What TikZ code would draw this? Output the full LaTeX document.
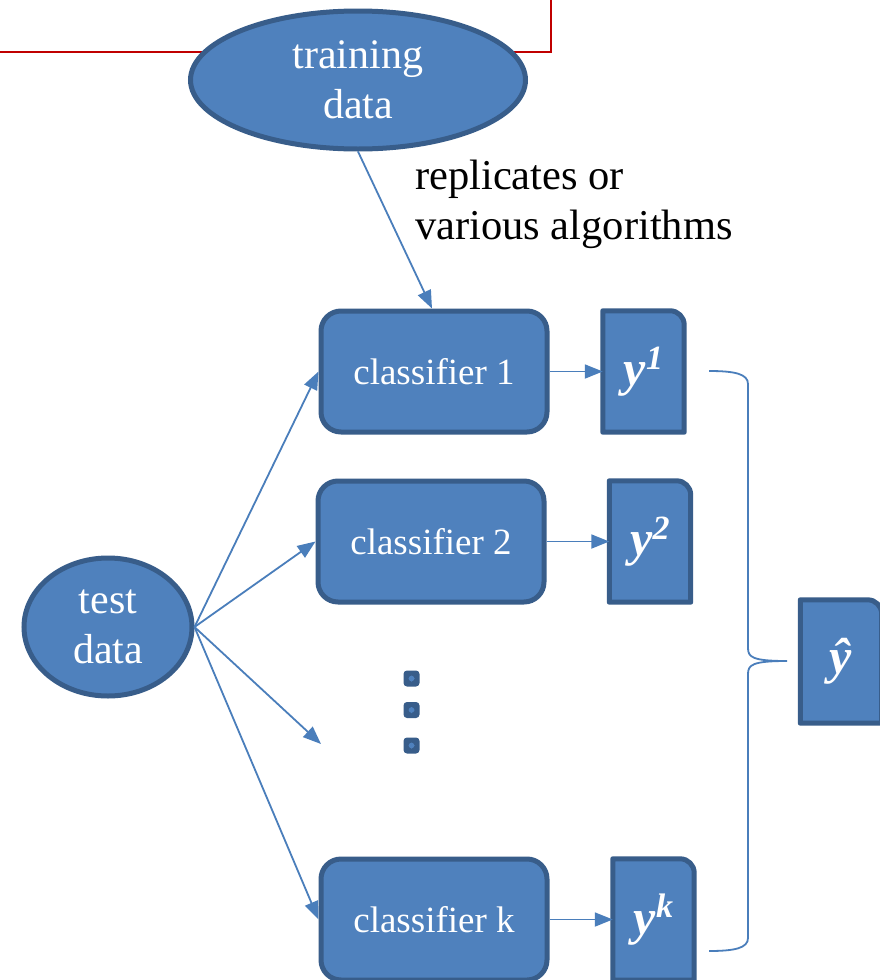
\documentclass[tikz,border=0pt]{standalone}
\usepackage{fontspec}
\setmainfont{Liberation Serif}
\usetikzlibrary{arrows.meta,calc,shapes.geometric}
\pgfdeclarelayer{background}
\pgfsetlayers{background,main}
\definecolor{boxfill}{HTML}{4F81BD}
\definecolor{boxline}{HTML}{385D8A}
\definecolor{linkblue}{HTML}{4A7EBB}
\definecolor{framered}{HTML}{C00000}
\newcommand{\supmark}[1]{\raisebox{0.33em}{\fontsize{34}{34}\selectfont #1}}
\tikzset{
  databox/.style={ellipse, draw=boxline, fill=boxfill, line width=5pt, inner sep=0pt,
    text=white, align=center, font=\fontsize{42}{50}\selectfont},
  clsbox/.style={rectangle, rounded corners=20pt, draw=boxline, fill=boxfill, line width=5pt,
    minimum width=226pt, minimum height=121pt, inner sep=0pt, text=white,
    font=\fontsize{37}{42}\selectfont},
  outbox/.style={rectangle, minimum width=81pt, minimum height=121pt, inner sep=0pt,
    text=white, font=\fontsize{50}{50}\selectfont\bfseries\itshape},
  outshape/.style={draw=boxline, fill=boxfill, line width=5pt, line join=round},
  arr/.style={draw=linkblue, line width=1.8pt, -{Triangle[length=18pt,width=14pt]}},
  dotbox/.style={rectangle, rounded corners=3.5pt, fill=boxline, minimum size=16pt, inner sep=0pt,
    path picture={\fill[boxfill] ([shift={(-3pt,-3pt)}]path picture bounding box.center) rectangle ++(6pt,6pt);}},
  note/.style={align=left, anchor=north west, inner sep=0pt, font=\fontsize{42.5}{50}\selectfont}
}
\begin{document}
\begin{tikzpicture}[x=1pt,y=-1pt]
\clip (0,0) rectangle (879,980);

% red frame edge running behind the training ellipse
\draw[framered, line width=2pt] (0,52) -- (551,52) -- (551,-5);

% data sources
\node[databox, minimum width=335pt, minimum height=138pt] (train) at (358,80) {training\\data};
\node[databox, minimum width=168pt, minimum height=138pt] (test) at (108,627) {test\\data};

% classifiers
\node[clsbox] (c1) at (434,371.5) {classifier 1};
\node[clsbox] (c2) at (431,541.5) {classifier 2};
\node[clsbox] (ck) at (434,919.5) {classifier k};

% classifier outputs
\node[outbox] (y1) at (643.5,371.5) {y\supmark{1}};
\node[outbox] (y2) at (650,541.5) {y\supmark{2}};
\node[outbox] (yk) at (653.5,919.5) {y\supmark{k}};
\node[outbox, minimum height=123pt] (yh) at (841,661.5) {ŷ};

% output boxes: square corners except the top right one
\begin{pgfonlayer}{background}
\fill[white] (0,0) rectangle (879,980);
\foreach \b in {y1,y2,yk,yh}{
  \draw[outshape] (\b.south west) -- (\b.north west) -- ($(\b.north east)+(-14,0)$)
    .. controls ($(\b.north east)+(-6.3,0)$) and ($(\b.north east)+(0,6.3)$) .. ($(\b.north east)+(0,14)$)
    -- (\b.south east) -- cycle;
}
\end{pgfonlayer}

% ellipsis between classifier 2 and classifier k
\node[dotbox] (d1) at (411.5,678.5) {};
\node[dotbox] (d2) at (411.5,710) {};
\node[dotbox] (d3) at (411.5,745.5) {};

% caption of the training link
\node[note] (cap) at (415,160) {replicates or\\various algorithms};

% training link
\draw[arr] (train.south) -- ($(c1.north)+(-2,0)$);

% test data fan-out
\coordinate (more) at (321,744);
\draw[arr] (test.east) -- (c1.west);
\draw[arr] (test.east) -- (c2.west);
\draw[arr] (test.east) -- (more);
\draw[arr] (test.east) -- (ck.west);

% classifier to output
\draw[arr] (c1.east) -- (y1.west);
\draw[arr] (c2.east) -- (y2.west);
\draw[arr] (ck.east) -- (yk.west);

% brace gathering all outputs into the combined prediction
\coordinate (bt) at (709,371);
\coordinate (bb) at (709,951);
\coordinate (tip) at (787,661);
\draw[linkblue, line width=1.8pt]
  (bt) .. controls (735,371) and (748,374) .. (748,384)
  -- (748,648) .. controls (748,657) and (752,661) .. (tip)
  .. controls (752,661) and (748,665) .. (748,674)
  -- (748,938) .. controls (748,948) and (735,951) .. (bb);
\end{tikzpicture}
\end{document}
